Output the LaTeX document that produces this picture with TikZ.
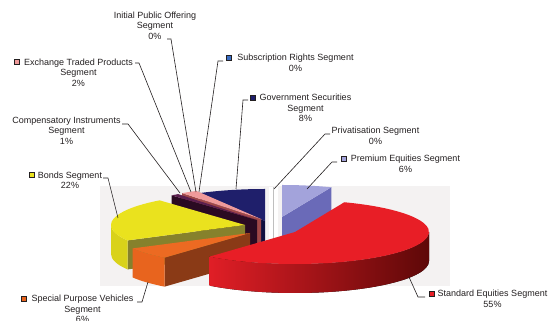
\documentclass[tikz,border=0pt]{standalone}
\usepackage{fontspec}
\setmainfont{Liberation Sans}
\usetikzlibrary{positioning,calc}
\definecolor{txt}{HTML}{231F20}
\definecolor{plotbg}{HTML}{F4F2F2}
\definecolor{govtop}{HTML}{1F1F6B}
\definecolor{govside}{HTML}{0F0F3F}
\definecolor{etptop}{HTML}{F09A9A}
\definecolor{etpside}{HTML}{A04848}
\definecolor{comptop}{HTML}{5B1E4E}
\definecolor{compside}{HTML}{2A0A22}
\definecolor{premtop}{HTML}{A3A3DB}
\definecolor{premside}{HTML}{6A6AB8}
\definecolor{bondtop}{HTML}{EAE21E}
\definecolor{bondside}{HTML}{86812C}
\definecolor{bondrim}{HTML}{D9D21A}
\definecolor{spvtop}{HTML}{EC6A22}
\definecolor{spvside}{HTML}{8A3A16}
\definecolor{spvrim}{HTML}{E8641E}
\definecolor{stdtop}{HTML}{E81E26}
\definecolor{stdrimA}{HTML}{E01E26}
\definecolor{stdrimM}{HTML}{B41418}
\definecolor{stdrimB}{HTML}{5E0808}
\definecolor{subskey}{HTML}{3B6FC4}
% pie pieces: vertex, angles, colour
\newcommand{\pietop}[4]{\fill[#4] (#1) -- ($(#1)+(#2:134 and 32)$) arc[start angle=#2,end angle=#3,x radius=134,y radius=32] -- cycle;}
\newcommand{\pieside}[3]{\fill[#3] (#1) -- ($(#1)+(#2:134 and 32)$) -- ++(0,-29) -- ($(#1)+(0,-29)$) -- cycle;}
\newcommand{\pierim}[4]{\fill[#4] ($(#1)+(#2:134 and 32)$) arc[start angle=#2,end angle=#3,x radius=134,y radius=32] -- ++(0,-29) arc[start angle=#3,end angle=#2,x radius=134,y radius=32] -- cycle;}

\begin{document}
\begin{tikzpicture}[x=1pt,y=1pt,
    lbl/.style={align=center,inner sep=0pt,text=txt,font=\fontsize{9}{10.5}\selectfont},
    key/.style={draw=txt,line width=0.4pt,minimum size=5pt,inner sep=0pt},
    lead/.style={draw=txt,line width=0.6pt}]
    \useasboundingbox (0,0) rectangle (550,321);
    \fill[plotbg] (100,35) rectangle (450,135);
    % slice vertices
      \coordinate (gv) at (265,100);
      \coordinate (et) at (261,102);
      \coordinate (cp) at (257,101);
      \coordinate (pe) at (282,104);
      \coordinate (bd) at (245,96);
      \coordinate (sp) at (250,88);
      \coordinate (se) at (295,89);
    % back slices
      \pieside{gv}{118.8}{govside}
      \pietop{gv}{90}{118.8}{govtop}
      \pieside{et}{126}{etpside}
      \pietop{et}{118.8}{126}{etptop}
      \pieside{cp}{129.6}{compside}
      \pietop{cp}{126}{129.6}{comptop}
      \fill[white] (269,81) rectangle (278,134);
      \draw[gray!50,line width=0.8pt] (273,81) -- (273,134);
      \pieside{pe}{68.4}{premside}
      \pietop{pe}{68.4}{90}{premtop}
    % front slices
      \pieside{bd}{208.8}{bondside}
      \pierim{bd}{180}{208.8}{bondrim}
      \pietop{bd}{129.6}{208.8}{bondtop}
      \pieside{sp}{230.4}{spvside}
      \pierim{sp}{208.8}{230.4}{spvrim}
      \pietop{sp}{208.8}{230.4}{spvtop}
      \pierim{se}{-129.6}{0}{left color=stdrimA,middle color=stdrimM,right color=stdrimB}
      \pietop{se}{-129.6}{68.4}{stdtop}
    % labels
      \node[lbl] (ipo) at (155,295.5) {Initial Public Offering\\Segment\\0\%};
      \node[lbl] (etp) at (78.5,248.5) {Exchange Traded Products\\Segment\\2\%};
      \node[lbl] (comp) at (66.5,190.5) {Compensatory Instruments\\Segment\\1\%};
      \node[lbl] (bonds) at (70,140.5) {Bonds Segment\\22\%};
      \node[lbl] (spv) at (82.5,12) {Special Purpose Vehicles\\Segment\\6\%};
      \node[lbl] (std) at (492.5,22) {Standard Equities Segment\\55\%};
      \node[lbl] (prem) at (405.5,157) {Premium Equities Segment\\6\%};
      \node[lbl] (priv) at (375.5,185) {Privatisation Segment\\0\%};
      \node[lbl] (gov) at (305.5,213) {Government Securities\\Segment\\8\%};
      \node[lbl] (subs) at (295.5,258) {Subscription Rights Segment\\0\%};
    % legend keys
      \node[key,fill=etptop] (etp-k) at (17,259) {};
      \node[key,fill=subskey] (subs-k) at (229,263) {};
      \node[key,fill=govtop] (gov-k) at (253,223) {};
      \node[key,fill=premtop] (prem-k) at (344,162) {};
      \node[key,fill=bondtop] (bonds-k) at (32,146) {};
      \node[key,fill=spvrim] (spv-k) at (24,22) {};
      \node[key,fill=stdtop] (std-k) at (432,27) {};
    % leader ends
      \coordinate (ipo-a) at (167,282);  \coordinate (ipo-b) at (196,129);
      \coordinate (etp-a) at (135,258);  \coordinate (etp-b) at (191,129);
      \coordinate (comp-a) at (122,197); \coordinate (comp-b) at (180,128);
      \coordinate (subs-a) at (223,260); \coordinate (subs-b) at (199,129);
      \coordinate (gov-a) at (248,221);  \coordinate (gov-b) at (236,132);
      \coordinate (priv-a) at (330,187); \coordinate (priv-b) at (274,132);
      \coordinate (prem-a) at (337,159); \coordinate (prem-b) at (307,132);
      \coordinate (bonds-a) at (103,143);\coordinate (bonds-b) at (118,103);
      \coordinate (spv-a) at (137,19);   \coordinate (spv-b) at (148,39);
      \coordinate (std-a) at (425,24);   \coordinate (std-b) at (409,44);
    %leaders
      \draw[lead] (ipo-a) -- ++(4,0) -- (ipo-b);
      \draw[lead] (etp-a) -- ++(4,0) -- (etp-b);
      \draw[lead] (comp-a) -- ++(6,0) -- (comp-b);
      \draw[lead] (subs-a) -- ++(-5,0) -- (subs-b);
      \draw[lead] (gov-a) -- ++(-5,0) -- (gov-b);
      \draw[lead] (priv-a) -- ++(-5,0) -- (priv-b);
      \draw[lead] (prem-a) -- ++(-5,0) -- (prem-b);
      \draw[lead] (bonds-a) -- ++(5,0) -- (bonds-b);
      \draw[lead] (spv-a) -- ++(5,0) -- (spv-b);
      \draw[lead] (std-a) -- ++(-7,0) -- (std-b);
\end{tikzpicture}
\end{document}
